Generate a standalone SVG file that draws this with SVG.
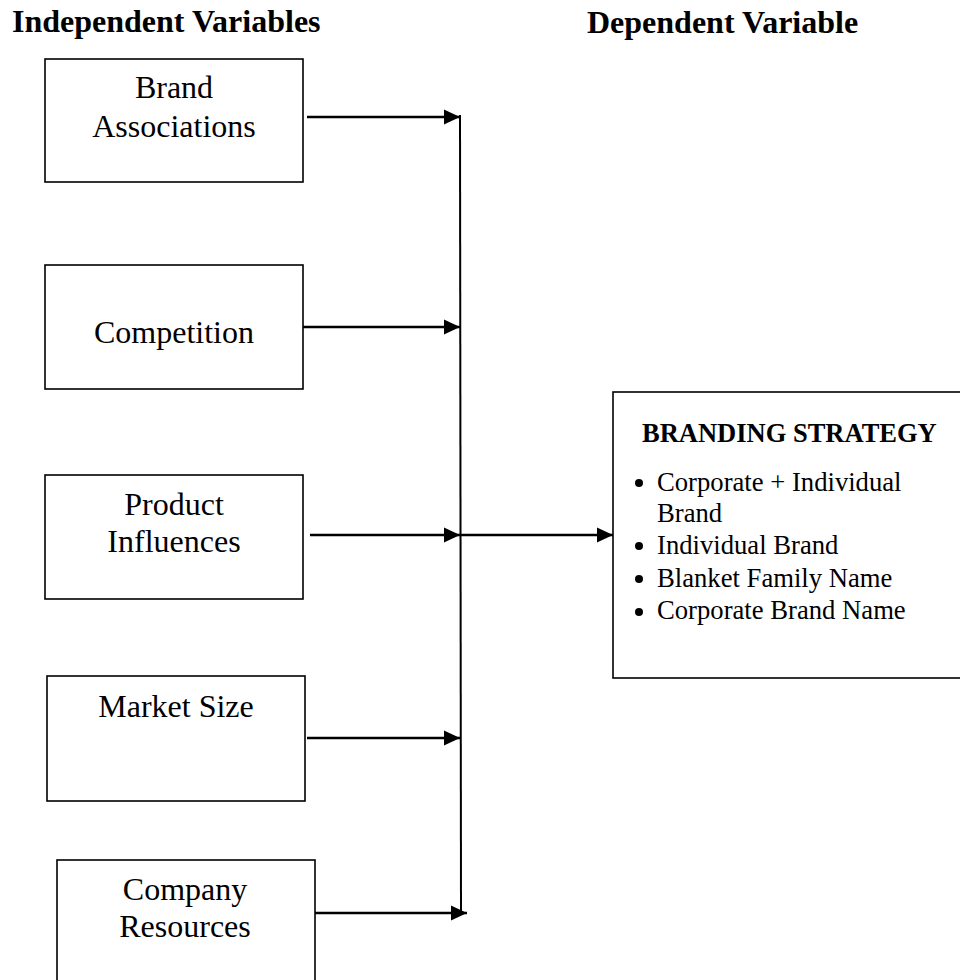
<svg xmlns="http://www.w3.org/2000/svg" width="960" height="980" viewBox="0 0 960 980">
<style>
.box{fill:#fff;stroke:#000;stroke-width:1.6}
.lbl{font-family:"Liberation Serif","Times New Roman",serif;font-size:32px;fill:#000;text-anchor:middle}
.hdr{font-family:"Liberation Serif","Times New Roman",serif;font-size:32px;font-weight:bold;fill:#000}
.ttl{font-family:"Liberation Serif","Times New Roman",serif;font-size:26.5px;font-weight:bold;fill:#000}
.itm{font-family:"Liberation Serif","Times New Roman",serif;font-size:26.67px;fill:#000}
.con{fill:none;stroke:#000;stroke-width:2.4}
.vline{fill:none;stroke:#000;stroke-width:2}
</style>
<defs>
<marker id="ah" markerUnits="userSpaceOnUse" markerWidth="18" markerHeight="18" refX="16" refY="8" orient="auto">
<path d="M0,0.5 L16,8 L0,15.5 z" fill="#000"/>
</marker>
</defs>
<rect width="960" height="980" fill="#fff"/>
<text class="hdr" x="12" y="32">Independent Variables</text>
<text class="hdr" x="587" y="33">Dependent Variable</text>

<g id="brand-associations">
<rect class="box" x="45" y="59" width="258" height="123"/>
<text class="lbl" x="174" y="98">Brand</text>
<text class="lbl" x="174" y="137">Associations</text>
</g>
<g id="competition">
<rect class="box" x="45" y="265" width="258" height="124"/>
<text class="lbl" x="174" y="343">Competition</text>
</g>
<g id="product-influences">
<rect class="box" x="45" y="475" width="258" height="124"/>
<text class="lbl" x="174" y="515">Product</text>
<text class="lbl" x="174" y="552">Influences</text>
</g>
<g id="market-size">
<rect class="box" x="47" y="676" width="258" height="125"/>
<text class="lbl" x="176" y="717">Market Size</text>
</g>
<g id="company-resources">
<rect class="box" x="57" y="860" width="258" height="140"/>
<text class="lbl" x="185" y="900">Company</text>
<text class="lbl" x="185" y="937">Resources</text>
</g>
<g id="branding-strategy">
<rect class="box" x="613" y="392" width="370" height="286"/>
<text class="ttl" x="642" y="442">BRANDING STRATEGY</text>
<circle cx="639" cy="483" r="4" fill="#000"/>
<circle cx="639" cy="546" r="4" fill="#000"/>
<circle cx="639" cy="579" r="4" fill="#000"/>
<circle cx="639" cy="612" r="4" fill="#000"/>
<text class="itm" x="657" y="491">Corporate + Individual</text>
<text class="itm" x="657" y="522">Brand</text>
<text class="itm" x="657" y="554">Individual Brand</text>
<text class="itm" x="657" y="587">Blanket Family Name</text>
<text class="itm" x="657" y="619">Corporate Brand Name</text>
</g>

<g id="connectors">
<line class="vline" x1="460" y1="115" x2="461" y2="913"/>
<line class="con" x1="307" y1="117" x2="460" y2="117" marker-end="url(#ah)"/>
<line class="con" x1="303" y1="327" x2="460" y2="327" marker-end="url(#ah)"/>
<line class="con" x1="310" y1="535" x2="460" y2="535" marker-end="url(#ah)"/>
<line class="con" x1="460" y1="535" x2="613" y2="535" marker-end="url(#ah)"/>
<line class="con" x1="307" y1="738" x2="460" y2="738" marker-end="url(#ah)"/>
<line class="con" x1="315" y1="913" x2="467" y2="913" marker-end="url(#ah)"/>
</g>
</svg>
